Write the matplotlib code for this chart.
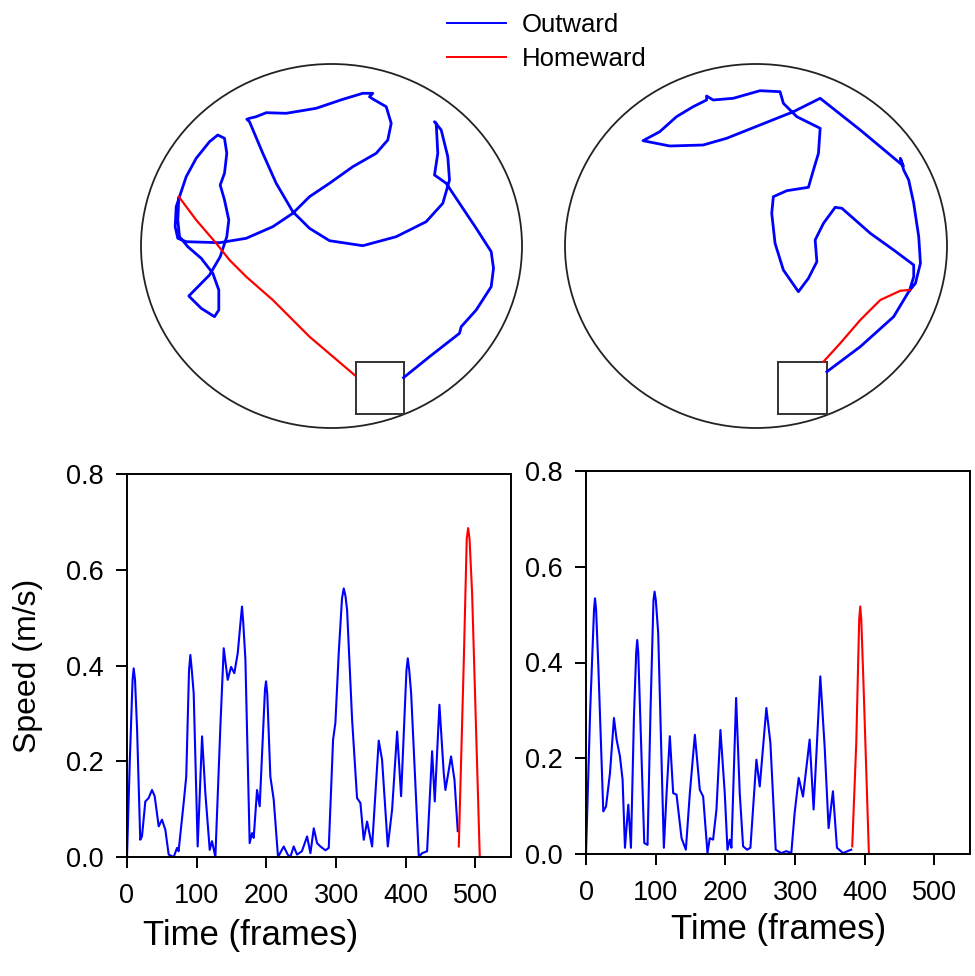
import matplotlib
matplotlib.use("Agg")
import matplotlib.pyplot as plt
from matplotlib.patches import Ellipse, Rectangle
from matplotlib.lines import Line2D

plt.rcParams['font.family'] = ['Liberation Sans', 'DejaVu Sans']

# ---------------- data ----------------
# Trajectories (arena coordinates, arena centre = 0,0)
left_out_x = [72, 98, 128, 129.7, 144.7, 159.7, 162, 159.7, 144.7, 128, 114.7, 103, 106.3, 104.7, 103,
              109.7, 116.3, 118, 111.3, 94.7, 64.7, 31.3, -2, -22, -38.7, -55.3, -68.7, -82, -84.7, -82,
              -75.3, -65.3, -45.3, -15.3, 11.3, 31.3, 41.3, 38, 41.3, 54.7, 59.7, 56.3, 44.7, 21.3, -2,
              -22, -38.7, -58.7, -85.3, -112, -145.3, -153.7, -156.3, -155.3, -152, -145.3, -135.3, -122,
              -113.7, -107, -104.7, -107, -111.3, -107, -102.7, -104.7, -111.3, -122, -142.7, -130.3,
              -117, -112.7, -112.7, -118.7, -130.3, -143.7, -152, -153.7, -152.7]
left_out_y = [-131.7, -110.7, -87.3, -80.7, -64, -40.7, -22.3, -5.7, 17.7, 42.7, 62.7, 71, 92.7, 122.7, 124.3,
              116, 89.3, 66, 42.7, 24.3, 9.3, 0.3, 5.3, 17.7, 34.3, 62.7, 92.7, 124.3, 126.7, 127.7,
              129.3, 133.3, 132.7, 137.7, 146.7, 152.7, 152.7, 149.3, 147, 139.3, 122.7, 106, 92.7, 79.3, 62.7,
              49.3, 32.7, 19.3, 7.7, 3.3, 4.3, 7.7, 19.3, 39.3, 49.3, 69.3, 87.7, 104.3,
              111, 107.7, 92.7, 72.7, 61, 46, 26, 9.3, -10.7, -29, -50, -62.3,
              -70.7, -64, -44, -27.3, -12.3, -0.7, 9.3, 26, 47.7]
left_home_x = [-152.7, -135.3, -115.3, -102, -85.3, -58.7, -22, 23]
left_home_y = [49.3, 26, 2.7, -14, -30.7, -54, -90.7, -129]

right_out_x = [70.7, 104, 137.3, 152.3, 159, 164, 162.3, 157.3, 152.3, 147.3, 144, 147, 104, 64,
               37.3, 4, -29.3, -52.7, -86, -112.7,
               -96, -79.3, -62.7, -49.3, -49.3, -42.7, -22.7, 4, 24,
               27.3, 40.7, 64, 62.3, 57.3, 52.3, 30.7, 17.3, 15.7, 19, 27.3, 42.3, 52.3, 60.7, 59, 67.3,
               79, 85.7, 114, 137.3, 157.3, 157.3, 153.3]
right_out_y = [-125.7, -100.7, -70.7, -45.7, -37.3, -17.3, 9.3, 42.7, 66, 76, 87.7, 80, 116, 147.7,
               134.3, 121, 107.7, 101, 100, 105.3,
               114.3, 129.3, 139.3, 146, 150, 146, 147.7, 155.3, 154.3,
               142.7, 129.3, 117.7, 92.7, 76, 58.7, 55.3, 49.3, 32.7, 2.7, -24, -45.7, -32.3, -15.7, 6, 22.7,
               38.7, 37.7, 12.7, -4, -19, -30.7, -44]
right_home_x = [153.3, 144, 124, 104, 84, 67.3]
right_home_y = [-44, -44.7, -54, -74, -97.3, -115.7]

arena_rx, arena_ry = 190.5, 182
nest_left = (24, -168, 48, 52)
nest_right = (22, -168, 49, 52)

# Speed profiles
left_out_t = [0, 4, 8, 9.6, 11.5, 14.4, 19, 21.5, 26.3, 31, 35.9, 39.7, 45.5, 50.2, 55, 59.8, 67, 71.8, 74,
              81.3, 85, 89, 90.9, 93, 95.7, 101.4, 107.7, 112.4, 118.7, 122, 126.8, 134, 138.8, 144.5,
              149.3, 154, 158.9, 163.5, 165, 166.8, 169.9, 176, 179.4, 181.8, 186.6, 190.4, 198, 199.5,
              201.3, 205.7, 210.5, 216.7, 224.9, 230.6, 234.4, 239.2, 244, 251, 258.4, 263.2, 268, 272.7,
              277.5, 284.7, 289.5, 295.7, 299, 303.8, 308.5, 311, 313.5, 315.8, 323, 330.1, 334.9, 339.7,
              344.5, 351.7, 361.2, 366, 374.2, 380.4, 387.6, 393.3, 401, 402.9, 405, 407.7, 418.7, 423.4,
              430.6, 437.8, 441.6, 448.3, 454.5, 456.9, 465, 469.9, 474.6]
left_out_v = [0.0, 0.2, 0.37, 0.394, 0.37, 0.27, 0.036, 0.043, 0.116, 0.123, 0.14, 0.127, 0.064, 0.078, 0.057,
              0.005, 0.0, 0.019, 0.012, 0.113, 0.168, 0.39, 0.422, 0.39, 0.342, 0.022, 0.252, 0.134, 0.015,
              0.033, 0.0, 0.273, 0.436, 0.37, 0.397, 0.384, 0.426, 0.5, 0.523, 0.49, 0.412, 0.029, 0.05,
              0.04, 0.14, 0.106, 0.35, 0.367, 0.34, 0.168, 0.12, 0.0, 0.022, 0.005, 0.0, 0.022, 0.005,
              0.012, 0.043, 0.008, 0.06, 0.029, 0.022, 0.014, 0.019, 0.245, 0.28, 0.426, 0.54, 0.561,
              0.545, 0.516, 0.287, 0.123, 0.113, 0.036, 0.074, 0.022, 0.243, 0.203, 0.022, 0.099, 0.262,
              0.127, 0.39, 0.415, 0.39, 0.342, 0.0, 0.008, 0.012, 0.221, 0.116, 0.318, 0.175, 0.14, 0.21,
              0.161, 0.054]
left_home_t = [476.1, 483.3, 487.5, 489.5, 491.5, 495.2, 506.2]
left_home_v = [0.022, 0.412, 0.665, 0.687, 0.665, 0.551, 0.0]

right_out_t = [0, 6, 11.5, 12.9, 14.5, 17.7, 24.8, 28.7, 34.4, 40.1, 43.9, 48.7, 52.5, 55.9, 60.7, 64.5,
               68.8, 72, 73.5, 75, 78.3, 83.6, 88.3, 92.6, 96.8, 98.4, 100.2, 103.6, 111.7, 115.6, 120.3,
               125.1, 129.9, 137.1, 143.3, 149, 156.2, 163.3, 168.1, 174.3, 177.6, 182.4, 187.2, 192.9,
               199.1, 203, 206.3, 208.7, 215.4, 220.6, 225.4, 231.1, 235.9, 244.5, 249.3, 258.8, 264.6,
               272.2, 280.3, 287.5, 294.6, 299.4, 305.2, 311.4, 320.9, 326.6, 336.2, 342.4, 348.1, 354.3,
               360.1, 368.7, 380.6]
right_out_v = [0.0, 0.3, 0.51, 0.534, 0.51, 0.392, 0.089, 0.099, 0.169, 0.284, 0.239, 0.204, 0.155, 0.013,
               0.103, 0.013, 0.287, 0.42, 0.447, 0.42, 0.266, 0.023, 0.019, 0.301, 0.53, 0.548, 0.53,
               0.461, 0.013, 0.127, 0.246, 0.127, 0.124, 0.033, 0.009, 0.127, 0.249, 0.134, 0.12, 0.002,
               0.033, 0.03, 0.093, 0.259, 0.127, 0.009, 0.03, 0.013, 0.326, 0.127, 0.016, 0.009, 0.013,
               0.197, 0.141, 0.305, 0.232, 0.009, 0.002, 0.006, 0.002, 0.086, 0.159, 0.12, 0.239, 0.093,
               0.371, 0.225, 0.054, 0.131, 0.013, 0.002, 0.009]
right_home_t = [382, 387.8, 392, 393.5, 395, 398.3, 405.9]
right_home_v = [0.016, 0.232, 0.49, 0.517, 0.49, 0.35, 0.002]

x_ticks = [0, 100, 200, 300, 400, 500]
y_ticks = [0.0, 0.2, 0.4, 0.6, 0.8]

BLUE = '#0000ff'
RED = '#ff0000'

# ---------------- figure ----------------
W, H = 975, 976
fig = plt.figure(figsize=(W / 100, H / 100), dpi=100)


def fbox(x0, y0, x1, y1):
    return [x0 / W, 1 - y1 / H, (x1 - x0) / W, (y1 - y0) / H]


def arena(rect, ox, oy, hx, hy, nest):
    ax = fig.add_axes(rect)
    ax.set_xlim(-arena_rx, arena_rx)
    ax.set_ylim(-arena_ry, arena_ry)
    ax.axis('off')
    ax.add_patch(Ellipse((0, 0), 2 * arena_rx, 2 * arena_ry, fill=False,
                         edgecolor='#222222', lw=1.3, clip_on=False))
    ax.add_patch(Rectangle(nest[:2], nest[2], nest[3], fill=False,
                           edgecolor='#333333', lw=1.4, clip_on=False))
    ax.plot(ox, oy, color=BLUE, lw=2.0, clip_on=False, solid_joinstyle='round')
    ax.plot(hx, hy, color=RED, lw=1.6, clip_on=False)
    return ax


arena(fbox(141, 64, 522, 428), left_out_x, left_out_y, left_home_x, left_home_y, nest_left)
arena(fbox(565, 64, 947, 428), right_out_x, right_out_y, right_home_x, right_home_y, nest_right)


def speed(rect, ot, ov, ht, hv):
    ax = fig.add_axes(rect)
    ax.plot(ot, ov, color=BLUE, lw=1.5, solid_joinstyle='round')
    ax.plot(ht, hv, color=RED, lw=1.5, solid_joinstyle='round')
    ax.set_xlim(0, 551)
    ax.set_ylim(0, 0.8)
    ax.set_xticks(x_ticks)
    ax.set_yticks(y_ticks)
    ax.set_yticklabels([f"{v:.1f}" for v in y_ticks])
    for s in ax.spines.values():
        s.set_linewidth(1.4)
    ax.tick_params(axis='both', direction='out', length=8, width=1.4, labelsize=19.5)
    ax.tick_params(axis='y', pad=9)
    ax.tick_params(axis='x', pad=11)
    return ax


speed(fbox(127, 474, 511, 857), left_out_t, left_out_v, left_home_t, left_home_v)
speed(fbox(586, 471, 970, 854), right_out_t, right_out_v, right_home_t, right_home_v)

fig.text(251 / W, 1 - 935 / H, "Time (frames)", ha='center', va='center', fontsize=25)
fig.text(779 / W, 1 - 929 / H, "Time (frames)", ha='center', va='center', fontsize=25)
fig.text(28 / W, 1 - 666 / H, "Speed (m/s)", ha='center', va='center', fontsize=23, rotation=90)

handles = [Line2D([], [], color=BLUE, lw=1.4), Line2D([], [], color=RED, lw=1.4)]
fig.legend(handles, ["Outward", "Homeward"], loc='upper left',
           bbox_to_anchor=(447 / W, 1 - 13 / H), frameon=False, fontsize=18.5,
           handlelength=2.3, handletextpad=0.6, labelspacing=0.4, borderpad=0,
           borderaxespad=0)

fig.savefig("out.png", dpi=100)
